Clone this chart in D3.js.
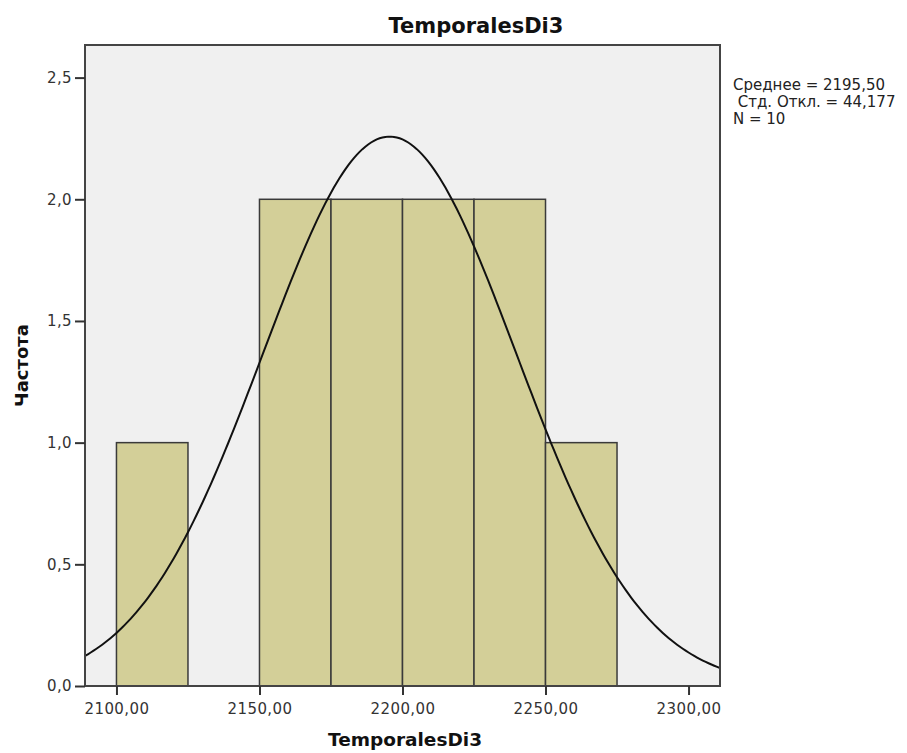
<!DOCTYPE html>
<html>
<head>
<meta charset="utf-8">
<script src="https://cdn.jsdelivr.net/npm/d3@7"></script>
<style>
  body { margin: 0; background: #fff; }
  svg { display: block; font-family: "DejaVu Sans", sans-serif; }
</style>
</head>
<body>
<div id="chart"></div>
<script>
// ===== Données =====
const binStarts = [2100, 2125, 2150, 2175, 2200, 2225, 2250];
const binCounts = [1, 0, 2, 2, 2, 2, 1];
const binWidth = 25;
const xTicks = [2100, 2150, 2200, 2250, 2300];
const yTicks = [0, 0.5, 1.0, 1.5, 2.0, 2.5];
const stats = { mean: 2195.5, sd: 44.177, n: 10 };
const legendLines = ["Среднее = 2195,50", " Стд. Откл. = 44,177", "N = 10"];

const W = 907, H = 753;
const plot = { left: 85, right: 720, top: 45, bottom: 686 };

const svg = d3.select("#chart").append("svg")
  .attr("width", W).attr("height", H);

const x = d3.scaleLinear().domain([2089, 2311]).range([plot.left, plot.right]);
const y = d3.scaleLinear().domain([0, 2.634]).range([plot.bottom, plot.top]);

const fmt = (d, k) => d.toFixed(k).replace(".", ",");

// fond
svg.append("rect")
  .attr("x", plot.left).attr("y", plot.top)
  .attr("width", plot.right - plot.left).attr("height", plot.bottom - plot.top)
  .attr("fill", "#f0f0f0");

// barres
const bins = binStarts.map((s, i) => ({ x0: s, x1: s + binWidth, count: binCounts[i] }))
  .filter((d) => d.count > 0);
svg.append("g").selectAll("rect")
  .data(bins).enter().append("rect")
  .attr("x", (d) => x(d.x0))
  .attr("y", (d) => y(d.count))
  .attr("width", (d) => x(d.x1) - x(d.x0))
  .attr("height", (d) => y(0) - y(d.count))
  .attr("fill", "#d3cf98")
  .attr("stroke", "#3a3a3a")
  .attr("stroke-width", 1.5);

// courbe normale (à partir de moyenne / écart-type affichés)
svg.append("clipPath").attr("id", "clip").append("rect")
  .attr("x", plot.left).attr("y", plot.top)
  .attr("width", plot.right - plot.left).attr("height", plot.bottom - plot.top);
const pdf = (v) => stats.n * binWidth / (stats.sd * Math.sqrt(2 * Math.PI)) *
  Math.exp(-0.5 * ((v - stats.mean) / stats.sd) ** 2);
const xs = d3.range(x.domain()[0], x.domain()[1] + 0.5, 1);
svg.append("path")
  .datum(xs)
  .attr("clip-path", "url(#clip)")
  .attr("fill", "none")
  .attr("stroke", "#111")
  .attr("stroke-width", 2)
  .attr("d", d3.line().x((d) => x(d)).y((d) => y(pdf(d))));

// cadre
svg.append("rect")
  .attr("x", plot.left).attr("y", plot.top)
  .attr("width", plot.right - plot.left).attr("height", plot.bottom - plot.top)
  .attr("fill", "none").attr("stroke", "#444").attr("stroke-width", 2);

// axes
const xAxis = svg.append("g")
  .attr("transform", `translate(0,${plot.bottom})`)
  .call(d3.axisBottom(x).tickValues(xTicks).tickFormat((d) => fmt(d, 2))
    .tickSize(9).tickPadding(8));
const yAxis = svg.append("g")
  .attr("transform", `translate(${plot.left},0)`)
  .call(d3.axisLeft(y).tickValues(yTicks).tickFormat((d) => fmt(d, 1))
    .tickSize(10).tickPadding(3));
[xAxis, yAxis].forEach((g) => {
  g.select(".domain").remove();
  g.selectAll(".tick line").attr("stroke", "#333").attr("stroke-width", 2);
  g.selectAll("text").attr("fill", "#333").style("font-size", "15px")
    .style("letter-spacing", "0.4px")
    .style("font-family", "DejaVu Sans, sans-serif");
});

// titres
svg.append("text")
  .attr("x", 476).attr("y", 33)
  .attr("text-anchor", "middle")
  .style("font-size", "21px").style("font-weight", "bold")
  .attr("fill", "#111")
  .text("TemporalesDi3");
svg.append("text")
  .attr("x", 405).attr("y", 746)
  .attr("text-anchor", "middle")
  .style("font-size", "18.5px").style("font-weight", "bold")
  .attr("fill", "#111")
  .text("TemporalesDi3");
svg.append("text")
  .attr("transform", `translate(28,${(plot.top + plot.bottom) / 2}) rotate(-90)`)
  .attr("text-anchor", "middle")
  .style("font-size", "18px").style("font-weight", "bold")
  .attr("fill", "#111")
  .text("Частота");

// légende statistique
svg.append("g").selectAll("text")
  .data(legendLines).enter().append("text")
  .attr("x", 733)
  .attr("y", (d, i) => 90 + i * 17)
  .style("font-size", "15px")
  .style("white-space", "pre")
  .attr("xml:space", "preserve")
  .attr("fill", "#222")
  .text((d) => d);
</script>
</body>
</html>
